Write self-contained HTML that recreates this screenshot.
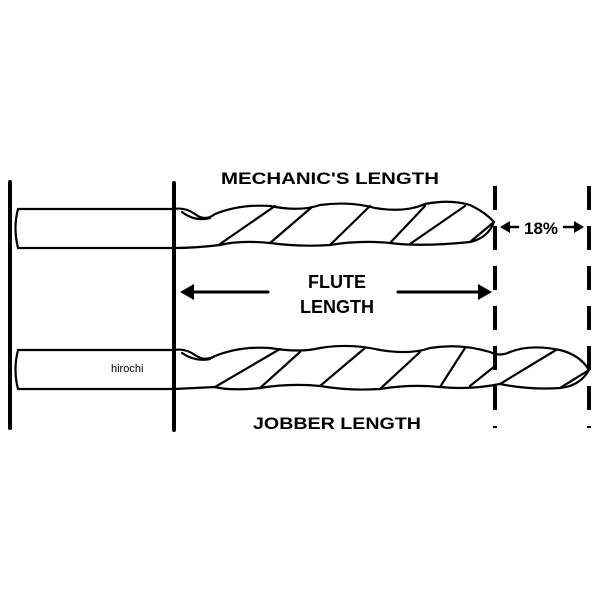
<!DOCTYPE html>
<html><head><style>body{margin:0;background:#fff}svg{display:block}</style></head><body>
<svg width="600" height="600" viewBox="0 0 600 600" xmlns="http://www.w3.org/2000/svg">
<g stroke="#000" fill="none" stroke-linecap="round">
<line x1="10" y1="182" x2="10" y2="428" stroke-width="4"/>
<line x1="174" y1="183" x2="174" y2="430" stroke-width="4"/>
<line x1="495" y1="186" x2="495" y2="428" stroke-width="4" stroke-dasharray="24,16" stroke-linecap="butt"/>
<line x1="589" y1="186" x2="589" y2="428" stroke-width="4" stroke-dasharray="24,16" stroke-linecap="butt"/>
<g stroke-width="2.2">
<path d="M174 209 H18 Q13 228 18 248 H174"/>
<path d="M174 209 Q185 207 195 214 Q205 222 215 214 Q240 204 270 206 Q300 212 320 205 Q350 201 375 208 Q405 213 425 204 Q450 199 470 205 Q485 212 494 222 Q488 238 470 242 Q420 247 390 243 Q360 240 330 245 Q300 247 270 243 Q240 240 220 245 Q195 248 174 248"/>
<path d="M182 212 Q195 222 210 218"/>
<path d="M220 244 L275 206 M270 243 L312 207 M330 245 L370 206 M390 243 L425 206 M410 244 L465 206 M470 242 L494 222"/>
<path d="M174 350 H18 Q13 370 18 389 H174"/>
<path d="M174 350 Q185 348 195 355 Q205 362 215 356 Q240 346 270 348 Q300 353 320 348 Q350 343 380 350 Q410 355 430 348 Q460 343 490 352 Q500 357 510 352 Q530 344 560 350 Q580 355 589 370 Q580 386 560 388 Q530 390 500 384 Q470 390 440 387 Q410 384 380 389 Q350 391 320 386 Q290 383 260 388 Q230 391 215 387 Q195 388 174 389"/>
<path d="M182 353 Q195 362 210 359"/>
<path d="M215 387 L280 349 M260 388 L300 352 M320 386 L365 348 M380 389 L420 352 M440 387 L465 348 M470 386 L495 366 M500 384 L556 350 M560 388 L589 370"/>
</g>
<line x1="192" y1="292" x2="268" y2="292" stroke-width="3"/>
<line x1="398" y1="292" x2="480" y2="292" stroke-width="3"/>
<line x1="508" y1="227" x2="518" y2="227" stroke-width="2.5"/>
<line x1="564" y1="227" x2="576" y2="227" stroke-width="2.5"/>
</g>
<g fill="#000">
<polygon points="180,292 194,284 194,300"/>
<polygon points="492,292 478,284 478,300"/>
<polygon points="500,227 510,221 510,233"/>
<polygon points="584,227 574,221 574,233"/>
</g>
<g font-family="Liberation Sans, sans-serif" font-weight="bold" fill="#000" text-anchor="middle">
<text x="330" y="184" font-size="17" textLength="218" lengthAdjust="spacingAndGlyphs">MECHANIC'S LENGTH</text>
<text x="337" y="288" font-size="18">FLUTE</text>
<text x="337" y="313" font-size="18">LENGTH</text>
<text x="337" y="429" font-size="17" textLength="168" lengthAdjust="spacingAndGlyphs">JOBBER LENGTH</text>
<text x="541" y="234" font-size="17">18%</text>
</g>
<text x="111" y="372" font-family="Liberation Sans, sans-serif" font-size="11" fill="#000">hirochi</text>
</svg>
</body></html>
